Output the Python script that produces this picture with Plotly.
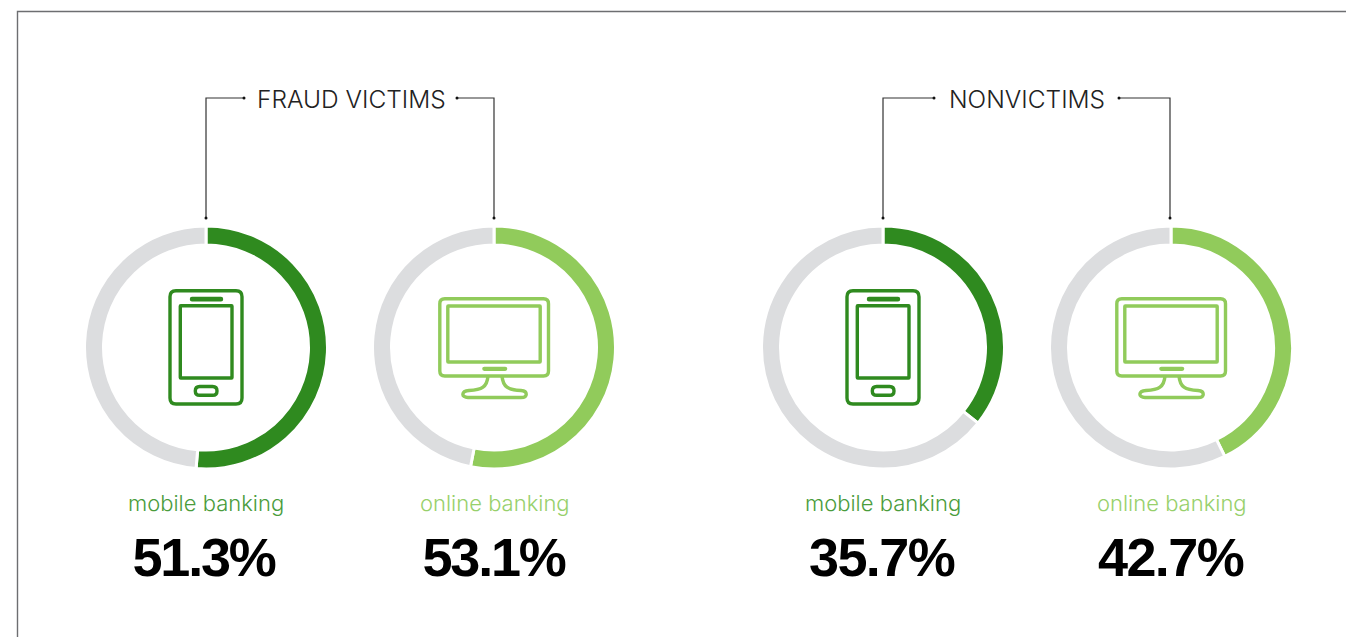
import plotly.graph_objects as go

W, H = 1346, 637

# Data
groups = ["FRAUD VICTIMS", "NONVICTIMS"]
channels = ["mobile banking", "online banking", "mobile banking", "online banking"]
shares = [51.3, 53.1, 35.7, 42.7]

# Style / layout
DARK, LIGHT, GREY = "#2F8A1F", "#91CB5B", "#DCDDDF"
LABEL_DARK, LABEL_LIGHT = "#4A9C3C", "#97D06B"
colors = [DARK, LIGHT, DARK, LIGHT]
label_colors = [LABEL_DARK, LABEL_LIGHT, LABEL_DARK, LABEL_LIGHT]
centers = [206, 494, 883, 1171]
CY, R, GAP = 347.5, 120, 3
INK = "#333333"


def px(x):
    return x / W


def py(y):
    return 1 - y / H


def path(cmds):
    """cmds: list of items, either a letter or an (x, y) pixel pair."""
    out = []
    for c in cmds:
        if isinstance(c, str):
            out.append(c)
        else:
            out.append(f"{px(c[0]):.5f},{py(c[1]):.5f}")
    return " ".join(out)


def rrect(x0, y0, x1, y1, r):
    return path([
        "M", (x0 + r, y0), "L", (x1 - r, y0), "Q", (x1, y0), (x1, y0 + r),
        "L", (x1, y1 - r), "Q", (x1, y1), (x1 - r, y1), "L", (x0 + r, y1),
        "Q", (x0, y1), (x0, y1 - r), "L", (x0, y0 + r), "Q", (x0, y0), (x0 + r, y0), "Z",
    ])


def stroke(d, color, width):
    return dict(type="path", xref="paper", yref="paper", path=d,
                line=dict(color=color, width=width), fillcolor="rgba(0,0,0,0)")


def phone(cx, color):
    return [
        stroke(rrect(cx - 36, 290.7, cx + 36, 404, 6), color, 3.4),
        stroke(rrect(cx - 25.7, 305.7, cx + 26, 378, 0.5), color, 3.4),
        stroke(rrect(cx - 15, 298, cx + 16, 300.2, 1), color, 2.4),
        stroke(rrect(cx - 10.7, 386.5, cx + 11, 395.3, 4.4), color, 3.4),
    ]


def monitor(cx, color):
    return [
        stroke(rrect(cx - 54.2, 298.7, cx + 54.5, 376, 5), color, 3.4),
        stroke(rrect(cx - 46.2, 306, cx + 46.2, 362, 0.5), color, 3.4),
        stroke(rrect(cx - 10.5, 368, cx + 12, 369.6, 0.8), color, 2.6),
        stroke(path([
            "M", (cx - 6, 376), "C", (cx - 7, 387), (cx - 12, 390), (cx - 25, 390.5),
            "C", (cx - 33, 391), (cx - 33, 397.5), (cx - 26, 397.5),
            "L", (cx + 27, 397.5), "C", (cx + 34, 397.5), (cx + 34, 391), (cx + 27, 390.5),
            "C", (cx + 14, 390), (cx + 9, 387), (cx + 8, 376),
        ]), color, 3.4),
    ]


def bracket(pts):
    shapes = [stroke(path(["M", pts[0], "L", pts[1], "L", pts[2]]), INK, 1.2)]
    for p in (pts[0], pts[2]):
        shapes.append(dict(type="circle", xref="paper", yref="paper",
                           x0=px(p[0] - 1.5), x1=px(p[0] + 1.5),
                           y0=py(p[1] + 1.5), y1=py(p[1] - 1.5),
                           fillcolor="#111111", line=dict(width=0)))
    return shapes


fig = go.Figure()
outer = R + GAP / 2
for cx, share, color in zip(centers, shares, colors):
    fig.add_trace(go.Pie(
        values=[share, 100 - share],
        marker=dict(colors=[color, GREY], line=dict(color="white", width=GAP)),
        hole=(R - 16 - GAP / 2) / outer,
        sort=False, direction="clockwise", rotation=0,
        textinfo="none", hoverinfo="skip", showlegend=False,
        domain=dict(x=[px(cx - outer), px(cx + outer)],
                    y=[py(CY + outer), py(CY - outer)]),
    ))

shapes = [stroke(path(["M", (17.5, H + 5), "L", (17.5, 11.5), "L", (W + 5, 11.5)]), "#6D6E71", 1.4)]
shapes += phone(centers[0], DARK) + monitor(centers[1], LIGHT)
shapes += phone(centers[2], DARK) + monitor(centers[3], LIGHT)
shapes += bracket([(206, 218), (206, 98), (244, 98)])
shapes += bracket([(457, 98), (494, 98), (494, 218)])
shapes += bracket([(883, 218), (883, 98), (934, 98)])
shapes += bracket([(1119, 98), (1170, 98), (1170, 218)])

ann = []
for name, cx in zip(groups, [351, 1027]):
    ann.append(dict(text=name, x=px(cx), y=py(99.5), xref="paper", yref="paper", showarrow=False,
                    xanchor="center", yanchor="middle",
                    font=dict(family="Inter", size=24.5, color="#222222", weight=300)))
for cx, ch, share, lc in zip([206, 495, 883, 1172], channels, shares, label_colors):
    ann.append(dict(text=ch, x=px(cx), y=py(503), xref="paper", yref="paper", showarrow=False,
                    xanchor="center", yanchor="middle",
                    font=dict(family="Inter", size=22, color=lc, weight=300)))
for cx, share in zip([204, 493.5, 881, 1170.5], shares):
    ann.append(dict(text=f"{share}%", x=px(cx), y=py(557), xref="paper", yref="paper", showarrow=False,
                    xanchor="center", yanchor="middle",
                    font=dict(family="Liberation Sans", size=54, color="#000000", weight=700)))

fig.update_layout(width=W, height=H, margin=dict(l=0, r=0, t=0, b=0, pad=0),
                  paper_bgcolor="white", plot_bgcolor="white",
                  shapes=shapes, annotations=ann)

# Page-level adjustments: no body margin, tight tracking on the big percentages
post = """
document.body.style.margin = '0';
document.querySelectorAll('.annotation-text').forEach(function (t) {
  var s = t.textContent;
  if (s.indexOf('%') >= 0) { t.style.letterSpacing = s.indexOf('1') >= 0 ? '-2.2px' : '-1.6px'; }
});
"""
fig.write_html("out.html", config={"displayModeBar": False}, post_script=post)
